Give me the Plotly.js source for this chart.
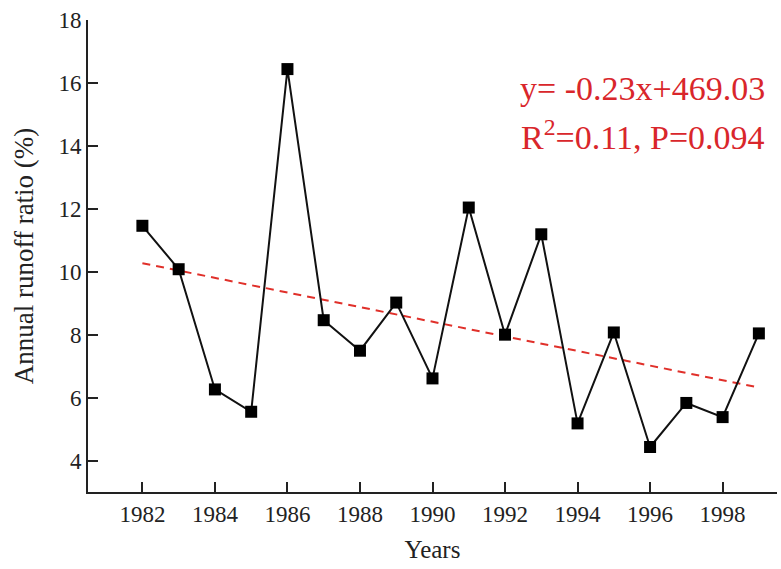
<!DOCTYPE html>
<html>
<head>
<meta charset="utf-8">
<script src="https://cdn.plot.ly/plotly-3.0.1.min.js"></script>
<style>html,body{margin:0;padding:0;background:#fff;}#chart{width:781px;height:569px;}</style>
</head>
<body>
<div id="chart"></div>
<script>
const years = [1982,1983,1984,1985,1986,1987,1988,1989,1990,1991,1992,1993,1994,1995,1996,1997,1998,1999];
const runoffRatio = [11.46,10.08,6.26,5.55,16.44,8.46,7.49,9.02,6.61,12.04,8.0,11.19,5.18,8.07,4.43,5.83,5.38,8.04];
const trendX = [1982, 1999];
const trendY = [10.27, 6.32];
const xTicks = [1982,1984,1986,1988,1990,1992,1994,1996,1998];
const yTicks = [4,6,8,10,12,14,16,18];
const eqLine1 = 'y= -0.23x+469.03';
const eqLine2 = 'R<sup>2</sup>=0.11, P=0.094';

const font = 'Liberation Serif, Times New Roman, serif';
const traces = [
  {x: trendX, y: trendY, mode: 'lines', line: {color: '#e0302a', width: 2, dash: '8px,6px'}, hoverinfo: 'skip'},
  {x: years, y: runoffRatio, mode: 'lines+markers', line: {color: '#111', width: 2},
   marker: {symbol: 'square', size: 12, color: '#000'}}
];
const axisCommon = {
  showgrid: false, zeroline: false, showline: true, linecolor: '#222', linewidth: 2,
  ticks: 'inside', ticklen: 10, tickwidth: 2, tickcolor: '#222',
  tickfont: {family: font, size: 23, color: '#222'}
};
const layout = {
  width: 781, height: 569,
  margin: {l: 88, r: 4, t: 20, b: 77},
  paper_bgcolor: '#fff', plot_bgcolor: '#fff',
  showlegend: false,
  xaxis: Object.assign({}, axisCommon, {
    range: [1980.5, 1999.5], tickvals: xTicks, ticktext: xTicks.map(String),
    title: {text: 'Years', font: {family: font, size: 25, color: '#222'}, standoff: 15}
  }),
  yaxis: Object.assign({}, axisCommon, {
    range: [3, 18], tickvals: yTicks, ticktext: yTicks.map(String),
    title: {text: 'Annual runoff ratio (%)', font: {family: font, size: 27, color: '#222'}, standoff: 17}
  }),
  annotations: [
    {xref: 'paper', yref: 'paper', x: 0.985, y: 0.855, xanchor: 'right', yanchor: 'middle', showarrow: false,
     text: eqLine1, font: {family: font, size: 34, color: '#d9262b'}},
    {xref: 'paper', yref: 'paper', x: 0.985, y: 0.757, xanchor: 'right', yanchor: 'middle', showarrow: false,
     text: eqLine2, font: {family: font, size: 34, color: '#d9262b'}}
  ]
};
Plotly.newPlot('chart', traces, layout, {displayModeBar: false, staticPlot: true});
</script>
</body>
</html>
